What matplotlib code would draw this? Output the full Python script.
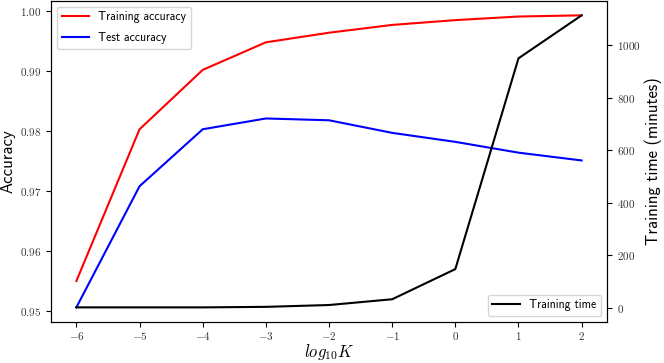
import matplotlib
matplotlib.use("Agg")
import matplotlib.pyplot as plt
from matplotlib.ticker import FuncFormatter

plt.rcParams['mathtext.fontset'] = 'cm'

log_k = [-6, -5, -4, -3, -2, -1, 0, 1, 2]
train_acc = [0.9550, 0.9803, 0.9902, 0.9948, 0.9964, 0.9977, 0.9985, 0.9991, 0.9993]
test_acc = [0.9506, 0.9708, 0.9803, 0.9821, 0.9818, 0.9797, 0.9782, 0.9764, 0.9751]
train_time = [1, 1, 1, 3, 10, 32, 147, 951, 1115]

sans = ['cmss10', 'DejaVu Sans']

fig = plt.figure(figsize=(6.64, 3.63), dpi=100)
ax = fig.add_axes([0.077, 0.113, 0.837, 0.885])
ax.plot(log_k, train_acc, color='r', lw=1.5, label='Training accuracy')
ax.plot(log_k, test_acc, color='b', lw=1.5, label='Test accuracy')
ax.set_ylabel('Accuracy', fontsize=12, family=sans, labelpad=3)
ax.set_xlabel('$log_{10}K$', fontsize=12, labelpad=0)
ax.set_xticks(log_k)
ax.set_yticks([0.95, 0.96, 0.97, 0.98, 0.99, 1.00])
ax.xaxis.set_major_formatter(FuncFormatter(lambda v, p: '$%d$' % v))
ax.yaxis.set_major_formatter(FuncFormatter(lambda v, p: '$%.2f$' % v))
ax.tick_params(labelsize=8, labelcolor='#333333')
ax.tick_params(axis='x', pad=2.5)
ax.legend(loc='upper left', prop={'family': sans, 'size': 8.5},
          labelspacing=0.75, handlelength=2.3)

ax2 = ax.twinx()
ax2.plot(log_k, train_time, color='k', lw=1.5, label='Training time')
ax2.set_ylabel('Training time (minutes)', fontsize=12, family=sans, labelpad=3)
ax2.set_yticks([0, 200, 400, 600, 800, 1000])
ax2.yaxis.set_major_formatter(FuncFormatter(lambda v, p: '$%d$' % v))
ax2.tick_params(labelsize=8, labelcolor='#333333')
ax2.legend(loc='lower right', prop={'family': sans, 'size': 8.5}, handlelength=2.3)

fig.savefig('out.png', dpi=100)
